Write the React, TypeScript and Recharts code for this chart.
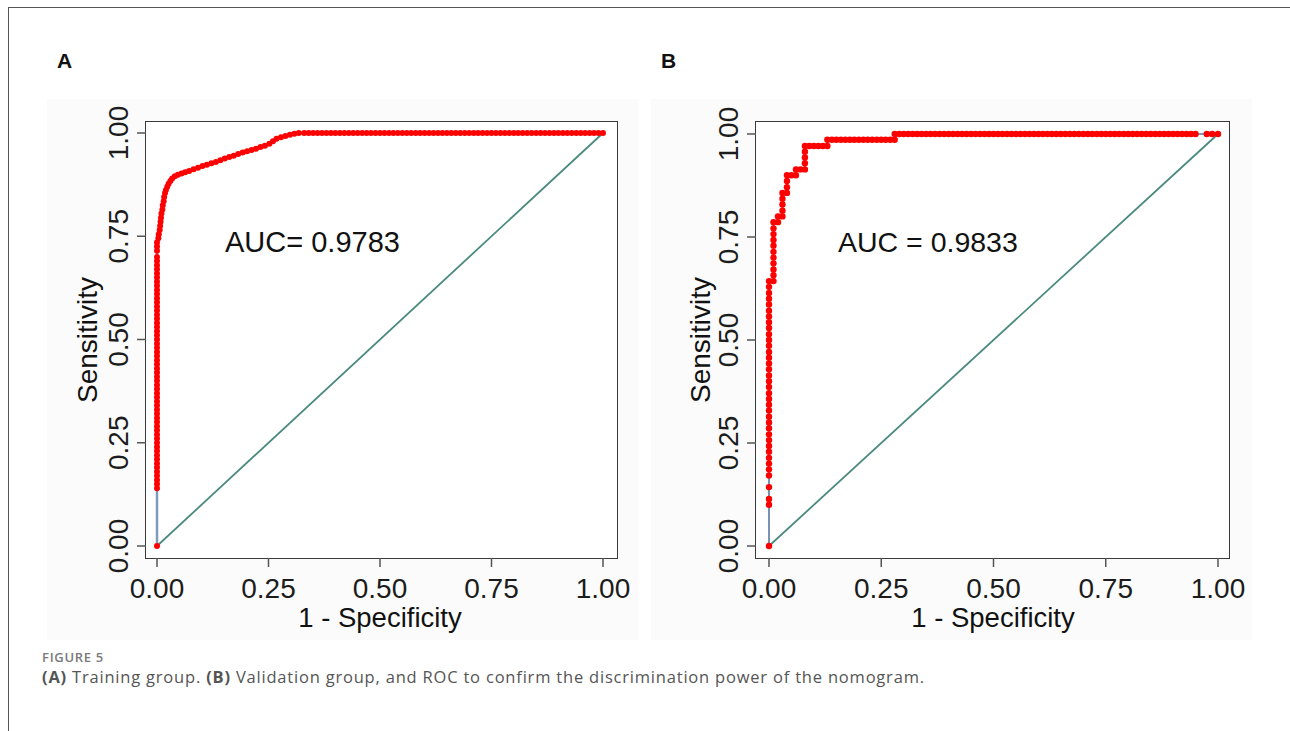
import React from "react"
import { LineChart, Line, XAxis, YAxis, ReferenceLine } from "recharts"

// ROC points: [1 - specificity, sensitivity]
const trainingRoc: [number, number][] = [
  [0, 0], [0, 0.14], [0, 0.15], [0, 0.16], [0, 0.17], [0, 0.18], [0, 0.19], [0, 0.2], [0, 0.21], [0, 0.22],
  [0, 0.23], [0, 0.24], [0, 0.25], [0, 0.26], [0, 0.27], [0, 0.28], [0, 0.29], [0, 0.3], [0, 0.31], [0, 0.32],
  [0, 0.33], [0, 0.34], [0, 0.35], [0, 0.36], [0, 0.37], [0, 0.38], [0, 0.39], [0, 0.4], [0, 0.41], [0, 0.42],
  [0, 0.43], [0, 0.44], [0, 0.45], [0, 0.46], [0, 0.47], [0, 0.48], [0, 0.49], [0, 0.5], [0, 0.51], [0, 0.52],
  [0, 0.53], [0, 0.54], [0, 0.55], [0, 0.56], [0, 0.57], [0, 0.58], [0, 0.59], [0, 0.6], [0, 0.61], [0, 0.62],
  [0, 0.63], [0, 0.64], [0, 0.65], [0, 0.66], [0, 0.67], [0, 0.68], [0, 0.69], [0, 0.7],
  [0, 0.715], [0, 0.725], [0, 0.735],
  [0.003, 0.745], [0.004, 0.755], [0.006, 0.765], [0.007, 0.775], [0.008, 0.785], [0.009, 0.795], [0.01, 0.805],
  [0.012, 0.815], [0.013, 0.825], [0.015, 0.835], [0.016, 0.845], [0.018, 0.855], [0.02, 0.862], [0.023, 0.87],
  [0.026, 0.877], [0.03, 0.884], [0.034, 0.89], [0.04, 0.895], [0.047, 0.899], [0.055, 0.902], [0.063, 0.905],
  [0.072, 0.908], [0.082, 0.912], [0.092, 0.916], [0.102, 0.92], [0.112, 0.923], [0.122, 0.927], [0.132, 0.93],
  [0.142, 0.934], [0.152, 0.938], [0.162, 0.942], [0.172, 0.945], [0.182, 0.949], [0.192, 0.953], [0.202, 0.956],
  [0.212, 0.959], [0.222, 0.962], [0.232, 0.966], [0.242, 0.969], [0.252, 0.974], [0.26, 0.98], [0.268, 0.986],
  [0.278, 0.99], [0.288, 0.993], [0.298, 0.996], [0.308, 0.998], [0.318, 1],
  [0.33, 1], [0.34, 1], [0.35, 1], [0.36, 1], [0.37, 1], [0.38, 1], [0.39, 1], [0.4, 1], [0.41, 1], [0.42, 1],
  [0.43, 1], [0.44, 1], [0.45, 1], [0.46, 1], [0.47, 1], [0.48, 1], [0.49, 1], [0.5, 1], [0.51, 1], [0.52, 1],
  [0.53, 1], [0.54, 1], [0.55, 1], [0.56, 1], [0.57, 1], [0.58, 1], [0.59, 1], [0.6, 1], [0.61, 1], [0.62, 1],
  [0.63, 1], [0.64, 1], [0.65, 1], [0.66, 1], [0.67, 1], [0.68, 1], [0.69, 1], [0.7, 1], [0.71, 1], [0.72, 1],
  [0.73, 1], [0.74, 1], [0.75, 1], [0.76, 1], [0.77, 1], [0.78, 1], [0.79, 1], [0.8, 1], [0.81, 1], [0.82, 1],
  [0.83, 1], [0.84, 1], [0.85, 1], [0.86, 1], [0.87, 1], [0.88, 1], [0.89, 1], [0.9, 1], [0.91, 1], [0.92, 1],
  [0.93, 1], [0.94, 1], [0.95, 1], [0.96, 1], [0.97, 1], [0.98, 1], [0.99, 1], [1, 1],
]

const validationRoc: [number, number][] = [
  [0, 0], [0, 0.1], [0, 0.114], [0, 0.143], [0, 0.171], [0, 0.186], [0, 0.2], [0, 0.214], [0, 0.229], [0, 0.243],
  [0, 0.257], [0, 0.271], [0, 0.286], [0, 0.3], [0, 0.314], [0, 0.329], [0, 0.343], [0, 0.357], [0, 0.371],
  [0, 0.386], [0, 0.4], [0, 0.414], [0, 0.429], [0, 0.443], [0, 0.457], [0, 0.471], [0, 0.486], [0, 0.5],
  [0, 0.514], [0, 0.529], [0, 0.543], [0, 0.557], [0, 0.571], [0, 0.586], [0, 0.6], [0, 0.614], [0, 0.629], [0, 0.643],
  [0.01, 0.643], [0.01, 0.657], [0.01, 0.671], [0.01, 0.686], [0.01, 0.7], [0.01, 0.714], [0.01, 0.729],
  [0.01, 0.743], [0.01, 0.757], [0.01, 0.771], [0.01, 0.786],
  [0.02, 0.786], [0.02, 0.8],
  [0.03, 0.8], [0.03, 0.814], [0.03, 0.829], [0.03, 0.843], [0.03, 0.857],
  [0.04, 0.857], [0.04, 0.871], [0.04, 0.886], [0.04, 0.9],
  [0.05, 0.9], [0.06, 0.9], [0.06, 0.914],
  [0.07, 0.914], [0.08, 0.914], [0.08, 0.929], [0.08, 0.943], [0.08, 0.957], [0.08, 0.971],
  [0.09, 0.971], [0.1, 0.971], [0.11, 0.971], [0.12, 0.971], [0.13, 0.971], [0.13, 0.986],
  [0.14, 0.986], [0.15, 0.986], [0.16, 0.986], [0.17, 0.986], [0.18, 0.986], [0.19, 0.986], [0.2, 0.986],
  [0.21, 0.986], [0.22, 0.986], [0.23, 0.986], [0.24, 0.986], [0.25, 0.986], [0.26, 0.986], [0.27, 0.986],
  [0.28, 0.986], [0.28, 1],
  [0.29, 1], [0.3, 1], [0.31, 1], [0.32, 1], [0.33, 1], [0.34, 1], [0.35, 1], [0.36, 1], [0.37, 1], [0.38, 1],
  [0.39, 1], [0.4, 1], [0.41, 1], [0.42, 1], [0.43, 1], [0.44, 1], [0.45, 1], [0.46, 1], [0.47, 1], [0.48, 1],
  [0.49, 1], [0.5, 1], [0.51, 1], [0.52, 1], [0.53, 1], [0.54, 1], [0.55, 1], [0.56, 1], [0.57, 1], [0.58, 1],
  [0.59, 1], [0.6, 1], [0.61, 1], [0.62, 1], [0.63, 1], [0.64, 1], [0.65, 1], [0.66, 1], [0.67, 1], [0.68, 1],
  [0.69, 1], [0.7, 1], [0.71, 1], [0.72, 1], [0.73, 1], [0.74, 1], [0.75, 1], [0.76, 1], [0.77, 1], [0.78, 1],
  [0.79, 1], [0.8, 1], [0.81, 1], [0.82, 1], [0.83, 1], [0.84, 1], [0.85, 1], [0.86, 1], [0.87, 1], [0.88, 1],
  [0.89, 1], [0.9, 1], [0.91, 1], [0.92, 1], [0.93, 1], [0.94, 1], [0.95, 1],
  [0.975, 1], [0.987, 1], [1, 1],
]

const axisTicks = [0, 0.25, 0.5, 0.75, 1]
const aucLabels = ["AUC= 0.9783", "AUC = 0.9833"]
const panelLetters = ["A", "B"]

const ARIAL = "Arial, 'Liberation Sans', sans-serif"
const CAPTION_FONT = "'Open Sans', sans-serif"
const RED = "#ff0000"
const DIAG = "#4b8a7e"

const XTick = (props: any) => {
  const { x, y, payload } = props
  return (
    <text x={x} y={y + 31} textAnchor="middle" fontSize={28} fill="#1c1c1c" fontFamily={ARIAL}>
      {Number(payload.value).toFixed(2)}
    </text>
  )
}

const YTick = (props: any) => {
  const { x, y, payload } = props
  const bx = x - 9
  return (
    <text
      x={bx}
      y={y}
      transform={`rotate(-90 ${bx} ${y})`}
      textAnchor="middle"
      fontSize={28}
      fill="#1c1c1c"
      fontFamily={ARIAL}
    >
      {Number(payload.value).toFixed(2)}
    </text>
  )
}

interface RocPanelProps {
  points: [number, number][]
  left: number
  xDomain: [number, number]
  yDomain: [number, number]
  marginRight: number
  lineColor: string
  lineWidth: number
  dotR: number
}

const RocPanel = ({ points, left, xDomain, yDomain, marginRight, lineColor, lineWidth, dotR }: RocPanelProps) => {
  const data = points.map(([fpr, tpr]) => ({ fpr, tpr }))
  return (
    <div style={{ position: "absolute", left, top: 95 }}>
      <LineChart
        width={610}
        height={560}
        data={data}
        margin={{ top: 27, right: marginRight, left: 46, bottom: 37 }}
      >
        <XAxis
          dataKey="fpr"
          type="number"
          domain={xDomain}
          ticks={axisTicks}
          allowDataOverflow
          axisLine={false}
          tickSize={9}
          tickMargin={0}
          tickLine={{ stroke: "#555", strokeWidth: 1.5 }}
          tick={<XTick />}
          height={60}
          interval={0}
        />
        <YAxis
          dataKey="tpr"
          type="number"
          domain={yDomain}
          ticks={axisTicks}
          allowDataOverflow
          axisLine={false}
          tickSize={9}
          tickMargin={0}
          tickLine={{ stroke: "#555", strokeWidth: 1.5 }}
          tick={<YTick />}
          width={60}
          interval={0}
        />
        <ReferenceLine
          segment={[{ x: 0, y: 0 }, { x: 1, y: 1 }]}
          stroke={DIAG}
          strokeWidth={1.8}
        />
        <Line
          dataKey="tpr"
          type="linear"
          stroke={lineColor}
          strokeWidth={lineWidth}
          dot={{ r: dotR, fill: RED, stroke: "none" }}
          activeDot={false}
          isAnimationActive={false}
        />
      </LineChart>
    </div>
  )
}

const App = () => {
  return (
    <div style={{ position: "absolute", left: 0, top: 0, width: 1290, height: 731, background: "#fff", overflow: "hidden" }}>
      {/* outer frame */}
      <div style={{ position: "absolute", left: 8, top: 7, width: 1290, height: 740, borderTop: "1.5px solid #555", borderLeft: "1.5px solid #555" }} />

      {/* faint graph regions */}
      <div style={{ position: "absolute", left: 47, top: 99, width: 591, height: 541, background: "#fbfbfb" }} />
      <div style={{ position: "absolute", left: 651, top: 99, width: 601, height: 541, background: "#fbfbfb" }} />

      {/* plot boxes */}
      <div style={{ position: "absolute", left: 145, top: 121, width: 473, height: 438, boxSizing: "border-box", border: "1.8px solid #3a3a3a", background: "#fff" }} />
      <div style={{ position: "absolute", left: 755, top: 121, width: 475, height: 438, boxSizing: "border-box", border: "1.8px solid #3a3a3a", background: "#fff" }} />

      <RocPanel
        points={trainingRoc}
        left={40}
        xDomain={[-0.02466, 1.0314]}
        yDomain={[-0.02906, 1.02663]}
        marginRight={33}
        lineColor="#7f9bb9"
        lineWidth={2.5}
        dotR={3}
      />
      <RocPanel
        points={validationRoc}
        left={650}
        xDomain={[-0.02895, 1.0245]}
        yDomain={[-0.0291, 1.0291]}
        marginRight={31}
        lineColor="#5a77a0"
        lineWidth={1.6}
        dotR={3.2}
      />

      <svg width={1290} height={731} style={{ position: "absolute", left: 0, top: 0, pointerEvents: "none" }}>
        <text x={57} y={68} fontSize={21} fontWeight="bold" fontFamily={ARIAL} fill="#111">{panelLetters[0]}</text>
        <text x={661} y={68} fontSize={21} fontWeight="bold" fontFamily={ARIAL} fill="#111">{panelLetters[1]}</text>

        <text x={225} y={252} fontSize={29} fontFamily={ARIAL} fill="#111">{aucLabels[0]}</text>
        <text x={838} y={252} fontSize={28.5} fontFamily={ARIAL} fill="#111">{aucLabels[1]}</text>

        <text x={97} y={340} transform="rotate(-90 97 340)" textAnchor="middle" fontSize={28} fontFamily={ARIAL} fill="#111">Sensitivity</text>
        <text x={710} y={340} transform="rotate(-90 710 340)" textAnchor="middle" fontSize={28} fontFamily={ARIAL} fill="#111">Sensitivity</text>

        <text x={380} y={627} textAnchor="middle" fontSize={27.5} fontFamily={ARIAL} fill="#111">1 - Specificity</text>
        <text x={993} y={627} textAnchor="middle" fontSize={27.5} fontFamily={ARIAL} fill="#111">1 - Specificity</text>

        <text x={42} y={662} fontSize={13} fontWeight={600} letterSpacing={0.7} fontFamily={CAPTION_FONT} fill="#7a7a7a">FIGURE 5</text>
        <text x={42} y={683} fontSize={16.5} letterSpacing={0.8} fontFamily={CAPTION_FONT} fill="#555">
          <tspan fontWeight={700}>(A)</tspan> Training group. <tspan fontWeight={700}>(B)</tspan> Validation group, and ROC to confirm the discrimination power of the nomogram.
        </text>
      </svg>
    </div>
  )
}

export default App
